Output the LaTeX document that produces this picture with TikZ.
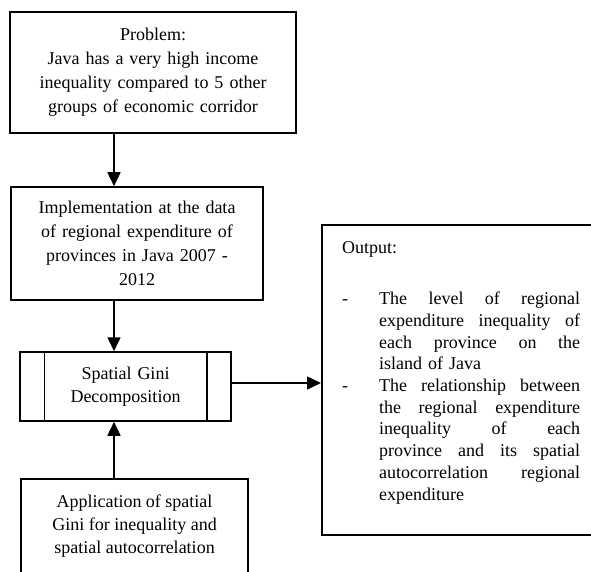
\documentclass[tikz,border=0pt]{standalone}
\usepackage{fontspec}
\setmainfont{Liberation Serif}
\usetikzlibrary{positioning,arrows.meta}

\tikzset{
  box/.style={draw, line width=1.5pt, inner sep=0pt, align=center},
  arr/.style={line width=1.5pt, -{Triangle[length=14pt,width=13pt]}},
  txt/.style={inner sep=0pt, align=center}
}
\newcommand{\jline}[1]{\hspace*{37pt}\hbox to 201pt{#1}}

\begin{document}
\begin{tikzpicture}[x=1pt,y=-1pt,font=\fontsize{18}{24}\selectfont]
    \useasboundingbox (0,0) rectangle (591,572);
    \clip (0,0) rectangle (591,572);

      % Problem
      \node[box, minimum width=286pt, minimum height=121pt, text width=280pt] (prob) at (153,72.5)
        {Problem:\\Java has a very high income\\inequality compared to 5 other\\groups of economic corridor};

      % Implementation
      \node[box, minimum width=252pt, minimum height=113pt, text width=246pt] (impl) at (137,243.5)
        {Implementation at the data\\of regional expenditure of\\provinces in Java 2007 -\\2012};

      % Spatial Gini
      \node[box, minimum width=211pt, minimum height=69pt, text width=155pt,
            font=\fontsize{18}{23}\selectfont] (gini) at (125.5,386.5)
        {Spatial Gini\\Decomposition};
      \draw[line width=1.5pt] ([xshift=25pt]gini.north west) -- ([xshift=25pt]gini.south west);
      \draw[line width=1.5pt] ([xshift=-25pt]gini.north east) -- ([xshift=-25pt]gini.south east);

      % Application
      \node[box, minimum width=227pt, minimum height=130pt, anchor=north] (appl) at (134.5,478) {};
      \node[txt, font=\fontsize{18}{23}\selectfont, below=16.5pt of appl.north] (appltxt)
        {Application of spatial\\Gini for inequality and\\spatial autocorrelation};

      % Output
      \node[box, minimum width=300pt, minimum height=310pt, anchor=north west] (out) at (321,224) {};
      \node[inner sep=0pt, anchor=base west, text width=240pt, align=left,
            font=\fontsize{18}{21.7}\selectfont] (outtxt) at (342,253)
        {Output:\\[30pt]
         \makebox[37pt][l]{-}\hbox to 201pt{The\hfill level\hfill of\hfill regional}\\
         \jline{expenditure\hfill inequality\hfill of}\\
         \jline{each\hfill province\hfill on\hfill the}\\
         \hspace*{37pt}island of Java\\
         \makebox[37pt][l]{-}\hbox to 201pt{The\hfill relationship\hfill between}\\
         \jline{the\hfill regional\hfill expenditure}\\
         \jline{inequality\hfill of\hfill each}\\
         \jline{province\hfill and\hfill its\hfill spatial}\\
         \jline{autocorrelation\hfill regional}\\
         \hspace*{37pt}expenditure};

      % Arrows
      \coordinate (ax) at (114,0);
      \draw[arr] (prob.south -| ax) -- (impl.north -| ax);
      \draw[arr] (impl.south -| ax) -- (gini.north -| ax);
      \draw[arr] (appl.north -| ax) -- (gini.south -| ax);
      \draw[arr] ([yshift=3.5pt]gini.east) -- ([yshift=3.5pt]gini.east -| out.west);
\end{tikzpicture}
\end{document}
